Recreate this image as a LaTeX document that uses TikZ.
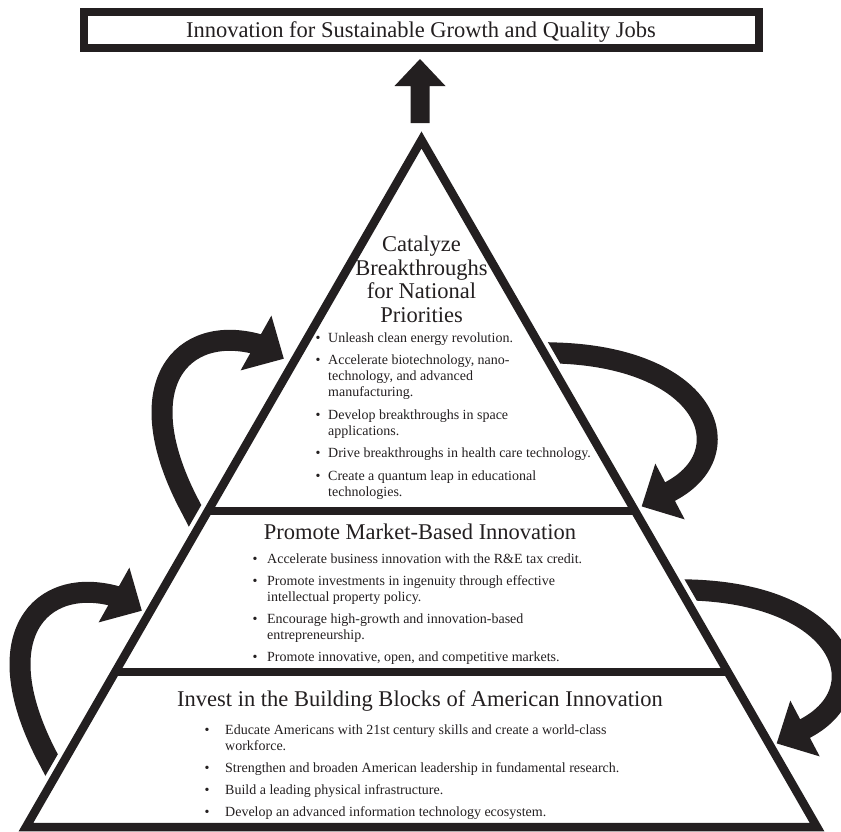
\documentclass[tikz,border=0pt]{standalone}
\usepackage{fontspec}
\setmainfont{Liberation Serif}
\usetikzlibrary{calc}
\definecolor{ink}{RGB}{35,31,32}
\newcommand{\bul}[1]{\makebox[#1][l]{\textbullet}}
\begin{document}
\begin{tikzpicture}[x=1pt,y=-1pt,
  shaft/.style={line width=21pt, line cap=butt, line join=round, draw=ink},
  headtip/.style={fill=ink, draw=none},
  tri/.style={draw=ink, line width=8.5pt, line join=miter},
  divider/.style={draw=ink, line width=8.5pt},
  titletext/.style={anchor=base, inner sep=0pt, text=ink, font=\fontsize{22.5}{24}\selectfont},
  blist/.style={anchor=north west, inner sep=0pt, text=ink, font=\fontsize{14}{16}\selectfont, align=left},
  bannerbox/.style={draw=ink, line width=8pt, minimum width=674.5pt, minimum height=35.5pt, inner sep=0pt}
]
\useasboundingbox (0,0) rectangle (841,831);

% ---- curved arrows (drawn first) ----
\begin{scope}
  \clip (-60,-10) -- (497.8,-10) -- (-26.1,900) -- (-60,900) -- cycle;
  \draw[shaft] (202.5,530.2) -- (191,508) .. controls (125,385) and (182,323) .. (258.6,344.5);
  \draw[shaft, shift={(-142,252)}] (202.5,530.2) -- (191,508) .. controls (125,385) and (182,323) .. (258.6,344.5);
\end{scope}
\fill[headtip] (283.8,358.7) -- (240.6,370.4) -- (271.4,315.6) -- cycle;
\fill[headtip, shift={(-142,252)}] (283.8,358.7) -- (240.6,370.4) -- (271.4,315.6) -- cycle;

\begin{scope}
  \clip (345.2,-10) -- (900,-10) -- (900,900) -- (869.1,900) -- cycle;
  \draw[shaft] (532,352.2) -- (557,353) .. controls (710,358) and (745,455) .. (667.3,492.9);
  \draw[shaft, shift={(135,237)}] (532,352.2) -- (557,353) .. controls (710,358) and (745,455) .. (667.3,492.9);
\end{scope}
\fill[headtip] (641.7,506.4) -- (684.7,519.4) -- (655.3,463.6) -- cycle;
\fill[headtip, shift={(135,237)}] (641.7,506.4) -- (684.7,519.4) -- (655.3,463.6) -- cycle;

% ---- banner and up arrow ----
\node[bannerbox] (goal) at (421.7,29.9) {};
\node[titletext] (goaltext) at (421,37.5) {Innovation for Sustainable Growth and Quality Jobs};
\fill[ink] (420,59) -- (445.5,86) -- (429.5,86) -- (429.5,123) -- (410.5,123) -- (410.5,86) -- (394.5,86) -- cycle;

% ---- pyramid ----
\coordinate (A) at (421.5,140);
\coordinate (BL) at (26,827);
\coordinate (BR) at (817,827);
\draw[tri] (A) -- (BR) -- (BL) -- cycle;
\draw[divider] ($(A)!0.540!(BL)$) -- ($(A)!0.540!(BR)$);
\draw[divider] ($(A)!0.7744!(BL)$) -- ($(A)!0.7744!(BR)$);

% ---- top tier ----
\node[titletext] (t1) at (421.5,251.5) {Catalyze};
\node[titletext] (t2) at (421.5,275) {Breakthroughs};
\node[titletext] (t3) at (421.5,298.5) {for National};
\node[titletext] (t4) at (421.5,322) {Priorities};
\node[blist] (toplist) at (315.5,330.8) {%
\begin{tabular}{@{}l@{}}
\bul{12.5pt}Unleash clean energy revolution.\\[6.5pt]
\bul{12.5pt}Accelerate biotechnology, nano-\\
\hspace*{12.5pt}technology, and advanced\\
\hspace*{12.5pt}manufacturing.\\[6.5pt]
\bul{12.5pt}Develop breakthroughs in space\\
\hspace*{12.5pt}applications.\\[6.5pt]
\bul{12.5pt}Drive breakthroughs in health care technology.\\[6.5pt]
\bul{12.5pt}Create a quantum leap in educational\\
\hspace*{12.5pt}technologies.
\end{tabular}};

% ---- middle tier ----
\node[titletext] (m0) at (420,539.5) {Promote Market-Based Innovation};
\node[blist] (midlist) at (252.5,551.8) {%
\begin{tabular}{@{}l@{}}
\bul{14.5pt}Accelerate business innovation with the R\&E tax credit.\\[6pt]
\bul{14.5pt}Promote investments in ingenuity through effective\\
\hspace*{14.5pt}intellectual property policy.\\[6pt]
\bul{14.5pt}Encourage high-growth and innovation-based\\
\hspace*{14.5pt}entrepreneurship.\\[6pt]
\bul{14.5pt}Promote innovative, open, and competitive markets.
\end{tabular}};

% ---- bottom tier ----
\node[titletext] (b0) at (420,706) {Invest in the Building Blocks of American Innovation};
\node[blist] (botlist) at (204.5,722.8) {%
\begin{tabular}{@{}l@{}}
\bul{20.5pt}Educate Americans with 21st century skills and create a world-class\\
\hspace*{20.5pt}workforce.\\[6pt]
\bul{20.5pt}Strengthen and broaden American leadership in fundamental research.\\[6pt]
\bul{20.5pt}Build a leading physical infrastructure.\\[6pt]
\bul{20.5pt}Develop an advanced information technology ecosystem.
\end{tabular}};
\end{tikzpicture}
\end{document}
